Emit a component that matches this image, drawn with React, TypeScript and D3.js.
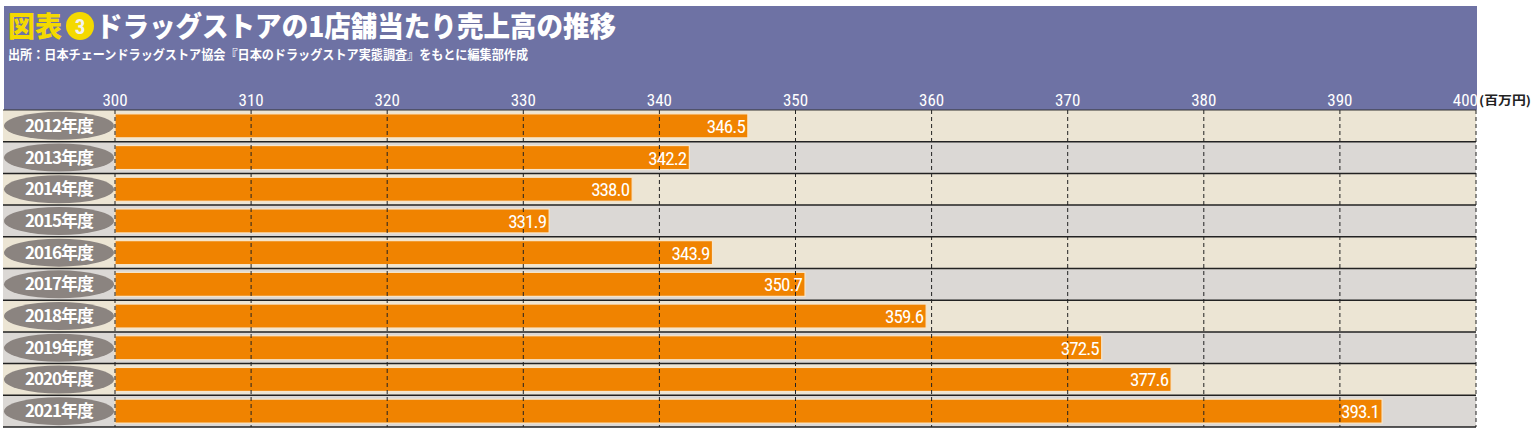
import React from "react";
import * as d3 from "d3";

const categories = ["2012年度", "2013年度", "2014年度", "2015年度", "2016年度", "2017年度", "2018年度", "2019年度", "2020年度", "2021年度"];
const values = [346.5, 342.2, 338.0, 331.9, 343.9, 350.7, 359.6, 372.5, 377.6, 393.1];
const ticks = [300, 310, 320, 330, 340, 350, 360, 370, 380, 390, 400];
const titleLabel = "図表";
const titleNum = "3";
const titleText = "ドラッグストアの1店舗当たり売上高の推移";
const subtitle = "出所：日本チェーンドラッグストア協会『日本のドラッグストア実態調査』をもとに編集部作成";
const unit = "(百万円)";

const W = 1536, H = 432;
const FONT = "'Noto Sans CJK JP', 'Noto Sans', sans-serif";
const NUMFONT = "'Liberation Sans Narrow', 'Roboto Condensed', Roboto, 'Noto Sans', sans-serif";

export default function App() {
  const x = d3.scaleLinear().domain([300, 400]).range([115, 1476]);
  const y = d3.scaleBand<string>().domain(categories).range([110, 427]).padding(0);
  const bh = y.bandwidth();
  const barH = 24;
  return (
    <svg width={W} height={H} style={{ position: "absolute", left: 0, top: 0, background: "#fff" }}>
      {/* header band */}
      <rect x={4} y={6} width={1473} height={104} fill="#6e72a4" />
      <text x={8} y={37} fontFamily={FONT} fontWeight={900} fontSize={28} fill="#f4d900" textLength={54} lengthAdjust="spacingAndGlyphs">{titleLabel}</text>
      <circle cx={80} cy={26} r={14} fill="#f4d900" />
      <text x={80} y={33.5} fontFamily={NUMFONT} fontWeight={700} fontSize={21} fill="#f2f2f2" textAnchor="middle">{titleNum}</text>
      <text x={96} y={37} fontFamily={FONT} fontWeight={900} fontSize={28} fill="#ffffff" textLength={520} lengthAdjust="spacingAndGlyphs">{titleText}</text>
      <text x={8} y={59} fontFamily={FONT} fontWeight={700} fontSize={13} fill="#ffffff" textLength={520} lengthAdjust="spacingAndGlyphs">{subtitle}</text>
      {ticks.map((t) => (
        <text key={"t" + t} x={x(t)} y={106} fontFamily={NUMFONT} fontSize={17} fill="#ffffff" textAnchor={t === 400 ? "end" : "middle"} dx={t === 400 ? 2 : 0}>{t}</text>
      ))}
      <text x={1479} y={105} fontFamily={FONT} fontSize={12} fontWeight={700} fill="#222" textLength={52} lengthAdjust="spacingAndGlyphs">{unit}</text>
      {/* rows */}
      {categories.map((c, i) => (
        <rect key={"r" + c} x={3} y={y(c)!} width={x(400) - 3} height={bh} fill={i % 2 === 0 ? "#ece5d4" : "#dbd8d5"} />
      ))}
      {/* bars */}
      {categories.map((c, i) => (
        <rect key={"b" + c} x={x(300)} y={y(c)! + (bh - barH) / 2} width={x(values[i]) - x(300)} height={barH} fill="#f08300" stroke="#f7e6cc" strokeWidth={1.2} />
      ))}
      {/* grid */}
      {ticks.map((t) => (
        <line key={"g" + t} x1={x(t)} x2={x(t)} y1={110} y2={427} stroke="#222" strokeWidth={1} strokeDasharray="4,3" />
      ))}
      {/* row separators */}
      {categories.map((c) => (
        <line key={"l" + c} x1={3} x2={x(400)} y1={y(c)! + bh} y2={y(c)! + bh} stroke="#222" strokeWidth={1.5} />
      ))}
      <line x1={3} x2={x(400)} y1={110} y2={110} stroke="#333" strokeWidth={1} />
      {/* value labels */}
      {categories.map((c, i) => (
        <text key={"v" + c} x={x(values[i]) - 3} y={y(c)! + bh / 2 + 7} fontFamily={NUMFONT} fontSize={19} fill="#ffffff" textAnchor="end" letterSpacing={-0.9}>{values[i].toFixed(1)}</text>
      ))}
      {/* category ellipses */}
      {categories.map((c) => (
        <g key={"e" + c}>
          <ellipse cx={59} cy={y(c)! + bh / 2} rx={55} ry={14} fill="#8b8480" />
          <text x={59} y={y(c)! + bh / 2 + 6} fontFamily={FONT} fontWeight={700} fontSize={17} fill="#ffffff" textAnchor="middle" letterSpacing={-1}>{c}</text>
        </g>
      ))}
    </svg>
  );
}
